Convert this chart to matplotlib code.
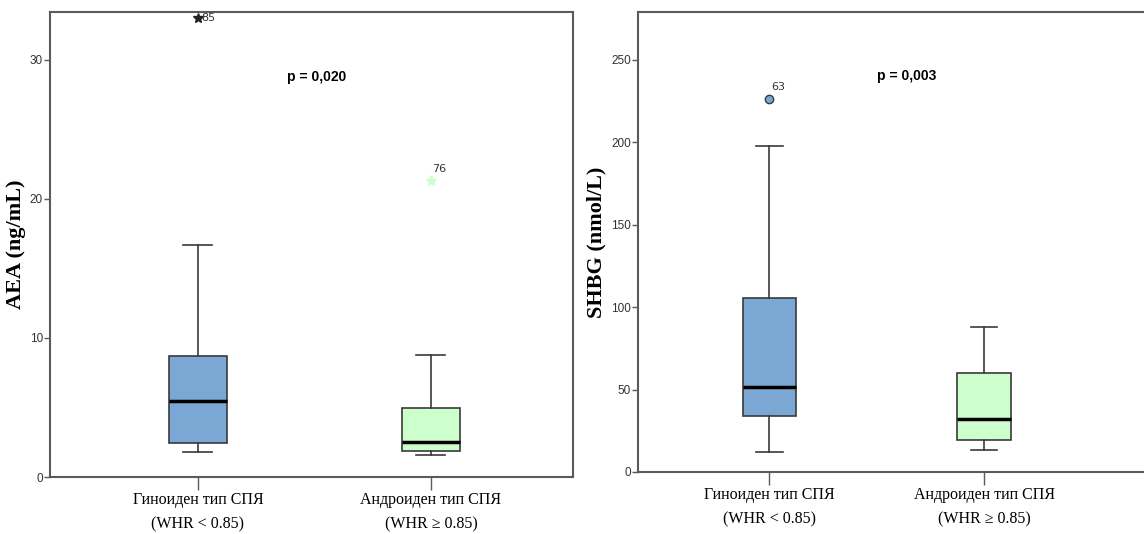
import matplotlib
matplotlib.use("Agg")
import matplotlib.pyplot as plt

# ----------------------------
# Data
# ----------------------------
groups = ["Гиноиден тип СПЯ\n(WHR < 0.85)", "Андроиден тип СПЯ\n(WHR ≥ 0.85)"]

aea_q1 = [2.45, 1.87]
aea_med = [5.45, 2.52]
aea_q3 = [8.7, 4.96]
aea_low = [1.8, 1.58]
aea_high = [16.7, 8.78]
aea_out = [33.0, 21.3]
aea_out_ids = ["85", "76"]

shbg_q1 = [34.0, 19.4]
shbg_med = [51.6, 32.0]
shbg_q3 = [105.6, 60.0]
shbg_low = [12.1, 13.3]
shbg_high = [197.8, 88.0]
shbg_out = [226.3]
shbg_out_ids = ["63"]

p_values = ["p = 0,020", "p = 0,003"]

BOX_COLORS = ["#7BA7D4", "#CCFFCC"]
EDGE = "#3a3a3a"
SPINE = "#5a5a5a"


def make_stats(q1, med, q3, low, high):
    stats = []
    for i in range(len(q1)):
        stats.append({"q1": q1[i], "med": med[i], "q3": q3[i],
                      "whislo": low[i], "whishi": high[i], "fliers": []})
    return stats


def style_axes(ax, ylabel, label_x):
    for s in ax.spines.values():
        s.set_color(SPINE)
        s.set_linewidth(1.5)
    ax.tick_params(axis="y", direction="out", length=4, width=1, color=SPINE,
                   labelsize=8.5, labelcolor="#333333", pad=1)
    ax.tick_params(axis="x", direction="out", length=9, width=1, color=SPINE,
                   labelsize=11.5, pad=2)
    for lbl in ax.get_xticklabels():
        lbl.set_family("Liberation Serif")
        lbl.set_linespacing(1.7)
    for lbl in ax.get_yticklabels():
        lbl.set_family("Liberation Sans")
    ax.set_ylabel(ylabel, fontsize=16, fontweight="bold", family="Liberation Serif")
    ax.yaxis.set_label_coords(label_x, 0.5)


def draw_boxes(ax, stats):
    bp = ax.bxp(stats, positions=[1, 2], widths=0.25, patch_artist=True, showfliers=False,
                boxprops=dict(edgecolor=EDGE, linewidth=1.2),
                medianprops=dict(color="black", linewidth=2.5),
                whiskerprops=dict(color=EDGE, linewidth=1.2),
                capprops=dict(color=EDGE, linewidth=1.2))
    for patch, c in zip(bp["boxes"], BOX_COLORS):
        patch.set_facecolor(c)
    for cap in bp["caps"]:
        x = cap.get_xdata()
        mid = (x[0] + x[1]) / 2
        cap.set_xdata([mid - 0.062, mid + 0.062])
    return bp


fig = plt.figure(figsize=(11.44, 5.34), dpi=100)
ax1 = fig.add_axes([50 / 1144, 1 - 477 / 534, 523 / 1144, 465 / 534])
ax2 = fig.add_axes([638 / 1144, 1 - 472 / 534, 520 / 1144, 460 / 534])

# ----------------------------
# Left panel: AEA
# ----------------------------
draw_boxes(ax1, make_stats(aea_q1, aea_med, aea_q3, aea_low, aea_high))
ax1.set_xlim(0.365, 2.61)
ax1.set_ylim(0, 33.45)
ax1.set_yticks([0, 10, 20, 30])
ax1.set_xticks([1, 2])
ax1.set_xticklabels(groups)
ax1.plot([1], [aea_out[0]], marker="*", color="#222222", markersize=7, linestyle="none")
ax1.plot([2], [aea_out[1]], marker="*", color="#CCFFCC", markersize=8, linestyle="none")
ax1.text(1.015, aea_out[0], aea_out_ids[0], fontsize=8, va="center", ha="left", color="#333333")
ax1.text(2.005, aea_out[1] + 0.85, aea_out_ids[1], fontsize=8, va="center", ha="left", color="#333333")
ax1.text(0.509, 0.86, p_values[0], transform=ax1.transAxes, fontsize=10,
         fontweight="bold", family="Liberation Sans", ha="center", va="center")
style_axes(ax1, "AEA (ng/mL)", -0.046)

# ----------------------------
# Right panel: SHBG
# ----------------------------
draw_boxes(ax2, make_stats(shbg_q1, shbg_med, shbg_q3, shbg_low, shbg_high))
ax2.set_xlim(0.388, 2.81)
ax2.set_ylim(0, 279)
ax2.set_yticks([0, 50, 100, 150, 200, 250])
ax2.set_xticks([1, 2])
ax2.set_xticklabels(groups)
ax2.plot([1], shbg_out, marker="o", markerfacecolor=BOX_COLORS[0], markeredgecolor=EDGE,
         markersize=6, linestyle="none")
ax2.text(1.01, shbg_out[0] + 7, shbg_out_ids[0], fontsize=8, va="center", ha="left", color="#333333")
ax2.text(0.517, 0.861, p_values[1], transform=ax2.transAxes, fontsize=10,
         fontweight="bold", family="Liberation Sans", ha="center", va="center")
style_axes(ax2, "SHBG (nmol/L)", -0.060)

plt.savefig("out.png", dpi=100)
